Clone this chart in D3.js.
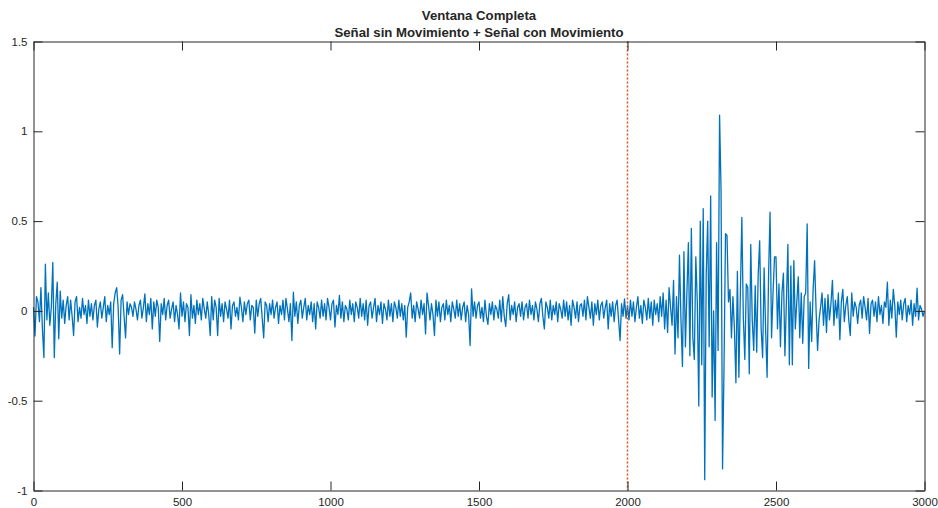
<!DOCTYPE html>
<html>
<head>
<meta charset="utf-8">
<script src="https://cdn.jsdelivr.net/npm/d3@7"></script>
<style>
  body { margin: 0; background: #fff; }
  svg text { font-family: "Liberation Sans", Arial, Helvetica, sans-serif; fill: #262626; }
</style>
</head>
<body>
<svg id="chart"></svg>
<script>
const titleLines = ["Ventana Completa", "Señal sin Movimiento + Señal con Movimiento"];
const xTicks = [0, 500, 1000, 1500, 2000, 2500, 3000];
const yTicks = [-1, -0.5, 0, 0.5, 1, 1.5];
const markerX = 2000;
const sampleStep = 5;

// samples 0..495
const quietA = [
  0.02, -0.14, 0.08, 0.05, -0.06, 0.13, -0.1, -0.26, 0.26, -0.05, 0.1, -0.08, 0.02, 0.27, -0.26, 0.04, 0.16, -0.155, 0.11, -0.04,
  0.06, -0.07, 0.03, 0.08, -0.05, 0.06, -0.03, -0.137, 0.05, 0.08, -0.06, 0.02, -0.04, 0.07, -0.02, 0.03, -0.07, 0.06, -0.03, 0.04,
  -0.05, 0.03, 0.06, -0.09, 0.01, 0.05, -0.04, 0.02, 0.08, -0.06, 0.03, -0.02, 0.05, -0.205, 0.04, 0.1, 0.13, 0.02, -0.24, 0.06,
  0.09, -0.03, -0.15, 0.05, -0.02, 0.04, 0.02, -0.03, 0.05, 0.01, -0.05, 0.03, 0.06, -0.04, 0.02, 0.095, -0.06, 0.04, -0.02, 0.07,
  -0.1, 0.05, -0.03, 0.06, 0.02, -0.17, 0.04, -0.02, 0.07, -0.05, 0.03, 0.06, -0.04, 0.01, 0.05, -0.06, 0.03, -0.02, -0.1, 0.1
];
// samples 500..995
const quietB = [
  -0.03, 0.05, -0.06, 0.04, 0.02, -0.137, 0.09, -0.04, 0.03, -0.07, 0.06, -0.02, 0.04, -0.05, 0.07, 0.01, -0.04, 0.05, -0.02, -0.137,
  0.08, -0.05, 0.06, 0.02, -0.137, 0.07, -0.03, 0.04, -0.06, 0.05, 0.01, -0.04, 0.06, -0.1, 0.03, 0.05, -0.03, 0.02, -0.05, 0.076,
  0.02, -0.06, 0.05, -0.02, 0.04, 0.06, -0.05, 0.03, 0.02, -0.124, 0.06, -0.03, 0.04, 0.07, -0.04, -0.15, 0.05, 0.03, -0.06, 0.04,
  -0.02, 0.06, -0.04, 0.02, 0.05, -0.07, 0.03, -0.02, 0.06, -0.05, 0.07, 0.01, -0.06, 0.04, -0.165, 0.104, -0.03, 0.05, -0.07, 0.03,
  0.06, -0.04, 0.02, 0.07, -0.05, 0.03, -0.02, 0.05, -0.06, 0.04, -0.1, 0.05, 0.02, -0.04, 0.06, -0.03, 0.04, -0.05, 0.07, 0.02
];
// samples 1000..1495
const quietC = [
  -0.05, 0.04, 0.06, -0.09, 0.03, -0.02, 0.086, -0.04, 0.05, -0.06, 0.03, 0.01, -0.05, 0.06, -0.02, 0.04, -0.06, 0.05, 0.02, -0.04,
  0.07, -0.03, 0.04, -0.05, 0.06, -0.08, 0.03, 0.05, -0.04, 0.02, 0.07, -0.06, 0.03, -0.02, 0.05, -0.07, 0.04, 0.01, -0.05, 0.06,
  -0.03, 0.04, -0.06, 0.05, 0.02, -0.04, 0.06, -0.03, 0.04, -0.05, 0.03, -0.146, 0.02, 0.05, 0.1, -0.04, 0.03, -0.06, 0.05, 0.01,
  -0.04, 0.06, -0.02, 0.04, -0.128, 0.1, 0.03, -0.05, 0.04, -0.02, -0.137, 0.06, -0.03, 0.05, -0.06, 0.02, 0.04, -0.05, 0.06, -0.02,
  0.03, -0.06, 0.05, 0.01, -0.04, 0.06, -0.03, 0.04, -0.05, 0.02, 0.05, -0.06, 0.03, -0.02, -0.193, 0.123, -0.03, 0.05, -0.04, 0.03
];
// samples 1500..1995
const quietD = [
  0.05, -0.04, 0.02, -0.06, 0.06, -0.03, -0.075, 0.04, -0.02, 0.05, -0.05, 0.03, 0.01, -0.04, 0.06, -0.06, 0.08, -0.03, -0.087, 0.04,
  0.09, -0.05, 0.03, -0.02, 0.05, -0.06, 0.02, 0.04, -0.03, 0.05, -0.05, 0.02, 0.04, -0.04, 0.06, -0.02, 0.03, -0.05, 0.05, 0.01,
  -0.06, 0.04, 0.07, -0.03, -0.1, 0.05, 0.02, -0.04, 0.06, -0.05, 0.03, -0.02, 0.05, -0.06, 0.04, 0.01, -0.04, 0.06, -0.03, 0.05,
  -0.05, 0.03, -0.08, 0.06, 0.02, -0.04, 0.05, -0.06, 0.03, 0.04, -0.03, 0.06, -0.05, 0.08, 0.02, -0.04, 0.05, -0.08, 0.04, -0.02,
  0.06, -0.05, 0.03, 0.05, -0.04, 0.02, 0.06, -0.1, 0.04, -0.03, 0.05, -0.06, 0.03, 0.06, -0.05, -0.165, 0.04, -0.03, 0.067, -0.04
];
// samples 2000..2495 (movement starts)
const burst = [
  0.03, -0.05, 0.06, -0.03, 0.05, -0.06, 0.02, 0.08, -0.04, 0.03, -0.07, 0.06, 0.02, -0.05, 0.07, -0.04, 0.05, -0.08, 0.06, -0.02,
  0.04, -0.06, 0.08, -0.03, 0.1, -0.1, 0.06, -0.12, 0.13, 0.02, -0.08, 0.17, -0.24, 0.08, -0.15, 0.31, -0.05, -0.31, 0.33, -0.2,
  0.1, 0.38, -0.25, 0.46, -0.15, -0.27, 0.3, 0.05, -0.53, 0.5, -0.3, 0.57, -0.94, 0.2, 0.5, -0.2, 0.64, -0.48, 0.0, -0.61,
  0.38, -0.22, 1.09, 0.67, -0.88, -0.31, 0.43, 0.42, 0.05, 0.12, -0.15, 0.08, -0.1, -0.4, 0.22, -0.37, 0.1, 0.52, -0.04, -0.27,
  0.15, 0.13, -0.35, 0.37, -0.05, -0.22, 0.14, -0.23, 0.2, 0.39, -0.1, -0.26, 0.24, -0.1, -0.37, 0.2, 0.55, -0.15, 0.1, 0.3
];
// samples 2500..3000
const tail = [
  0.3, -0.1, 0.15, -0.2, 0.1, 0.21, -0.25, 0.05, 0.37, -0.3, 0.25, -0.3, 0.28, -0.1, 0.05, 0.19, -0.15, 0.1, -0.18, 0.08,
  0.1, 0.485, -0.32, 0.05, -0.17, 0.12, 0.28, 0.0, -0.22, -0.05, 0.02, 0.1, -0.08, 0.07, -0.12, 0.09, -0.05, 0.04, 0.17, -0.08,
  0.06, -0.04, 0.1, -0.16, 0.05, 0.12, -0.06, 0.03, 0.08, -0.05, -0.137, 0.1, -0.03, 0.05, 0.02, -0.07, 0.03, 0.06, -0.04, 0.08,
  0.02, -0.05, 0.07, -0.125, 0.04, 0.06, -0.03, 0.05, -0.06, 0.08, -0.02, 0.03, -0.07, 0.05, 0.02, 0.16, -0.08, 0.06, -0.04, 0.12,
  0.03, -0.146, 0.05, -0.02, 0.06, -0.05, 0.04, 0.07, -0.06, 0.03, -0.02, 0.06, -0.08, 0.04, -0.03, 0.126, -0.05, 0.03, 0.01, -0.03,
  0.0
];

const signal = [...quietA, ...quietB, ...quietC, ...quietD, ...burst, ...tail]
  .map((v, i) => ({ n: i * sampleStep, v }));

const width = 938;
const height = 508;
const margin = { top: 41.5, right: 13.5, bottom: 17.5, left: 33.5 };

const svg = d3.select("#chart")
  .attr("width", width)
  .attr("height", height);

const x = d3.scaleLinear()
  .domain([0, 3000])
  .range([margin.left, width - margin.right]);

const y = d3.scaleLinear()
  .domain([-1, 1.5])
  .range([height - margin.bottom, margin.top]);

// signal
svg.append("path")
  .datum(signal)
  .attr("fill", "none")
  .attr("stroke", "#0072BD")
  .attr("stroke-width", 1.3)
  .attr("stroke-linejoin", "round")
  .attr("d", d3.line().x(d => x(d.n)).y(d => y(d.v)));

// dotted marker where movement begins
svg.append("line")
  .attr("x1", x(markerX))
  .attr("x2", x(markerX))
  .attr("y1", y(1.5))
  .attr("y2", y(-1))
  .attr("stroke", "#D95319")
  .attr("stroke-width", 1.5)
  .attr("stroke-dasharray", "2,2");

// axes, ticks pointing inward (box on)
const styleAxis = g => {
  g.select(".domain").attr("stroke", "#262626");
  g.selectAll(".tick line").attr("stroke", "#262626");
  g.selectAll(".tick text")
    .style("font-size", "11.5px")
    .attr("fill", "#262626");
};

svg.append("g")
  .attr("transform", `translate(0,${y(-1)})`)
  .call(d3.axisBottom(x).tickValues(xTicks).tickSize(-9).tickSizeOuter(0).tickPadding(7).tickFormat(d3.format("d")))
  .call(styleAxis);

svg.append("g")
  .attr("transform", `translate(0,${y(1.5)})`)
  .call(d3.axisTop(x).tickValues(xTicks).tickSize(-9).tickSizeOuter(0).tickFormat(""))
  .call(styleAxis);

svg.append("g")
  .attr("transform", `translate(${x(0)},0)`)
  .call(d3.axisLeft(y).tickValues(yTicks).tickSize(-9).tickSizeOuter(0).tickPadding(6).tickFormat(d => String(d)))
  .call(styleAxis);

svg.append("g")
  .attr("transform", `translate(${x(3000)},0)`)
  .call(d3.axisRight(y).tickValues(yTicks).tickSize(-9).tickSizeOuter(0).tickFormat(""))
  .call(styleAxis);

// title
const title = svg.append("text")
  .attr("text-anchor", "middle")
  .style("font-size", "13.2px")
  .style("font-weight", "bold");

titleLines.forEach((t, i) => {
  title.append("tspan")
    .attr("x", (x(0) + x(3000)) / 2)
    .attr("y", 19.5 + i * 17)
    .text(t);
});
</script>
</body>
</html>
